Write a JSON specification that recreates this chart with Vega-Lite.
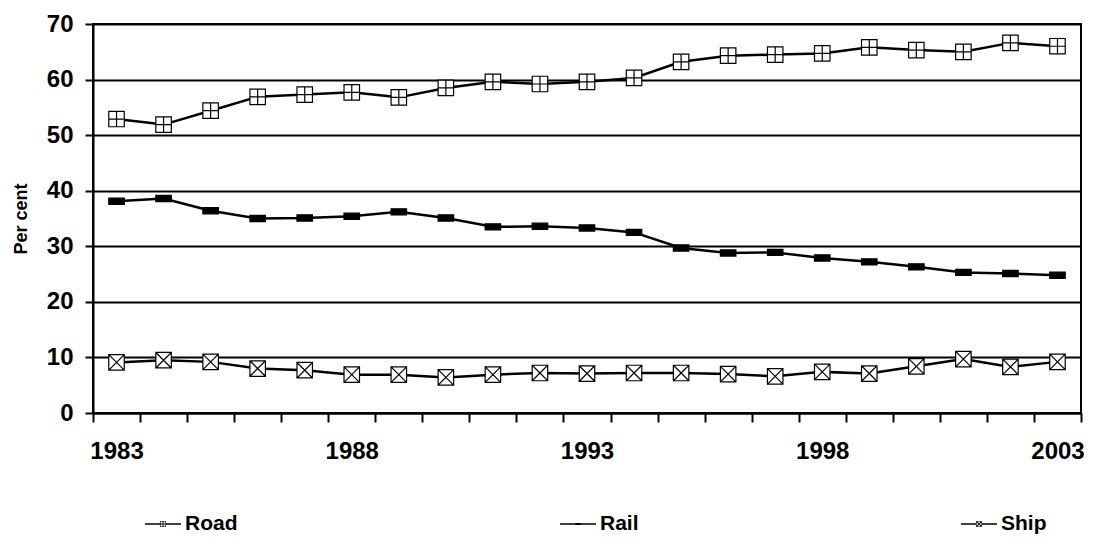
{
  "$schema": "https://vega.github.io/schema/vega-lite/v6.json",
  "width": 988,
  "height": 389,
  "autosize": {"type": "none"},
  "padding": {"left": 93, "top": 24, "right": 12, "bottom": 126},
  "background": "white",
  "config": {
    "view": {"stroke": "black", "strokeWidth": 2},
    "font": "Liberation Sans",
    "axis": {
      "labelFont": "Liberation Sans",
      "labelFontWeight": "bold",
      "labelFontSize": 24,
      "labelColor": "black",
      "titleFont": "Liberation Sans",
      "titleFontWeight": "bold",
      "titleColor": "black",
      "domainColor": "black",
      "domainWidth": 2,
      "tickColor": "black",
      "tickWidth": 2
    }
  },
  "data": {
    "values": [
      {"year": 1983, "series": "Road", "value": 52.9},
      {"year": 1984, "series": "Road", "value": 51.9},
      {"year": 1985, "series": "Road", "value": 54.4},
      {"year": 1986, "series": "Road", "value": 56.9},
      {"year": 1987, "series": "Road", "value": 57.3},
      {"year": 1988, "series": "Road", "value": 57.7},
      {"year": 1989, "series": "Road", "value": 56.8},
      {"year": 1990, "series": "Road", "value": 58.5},
      {"year": 1991, "series": "Road", "value": 59.6},
      {"year": 1992, "series": "Road", "value": 59.2},
      {"year": 1993, "series": "Road", "value": 59.6},
      {"year": 1994, "series": "Road", "value": 60.3},
      {"year": 1995, "series": "Road", "value": 63.2},
      {"year": 1996, "series": "Road", "value": 64.3},
      {"year": 1997, "series": "Road", "value": 64.5},
      {"year": 1998, "series": "Road", "value": 64.7},
      {"year": 1999, "series": "Road", "value": 65.8},
      {"year": 2000, "series": "Road", "value": 65.3},
      {"year": 2001, "series": "Road", "value": 65.0},
      {"year": 2002, "series": "Road", "value": 66.6},
      {"year": 2003, "series": "Road", "value": 66.0},
      {"year": 1983, "series": "Rail", "value": 38.1},
      {"year": 1984, "series": "Rail", "value": 38.6},
      {"year": 1985, "series": "Rail", "value": 36.4},
      {"year": 1986, "series": "Rail", "value": 35.0},
      {"year": 1987, "series": "Rail", "value": 35.1},
      {"year": 1988, "series": "Rail", "value": 35.4},
      {"year": 1989, "series": "Rail", "value": 36.2},
      {"year": 1990, "series": "Rail", "value": 35.1},
      {"year": 1991, "series": "Rail", "value": 33.5},
      {"year": 1992, "series": "Rail", "value": 33.6},
      {"year": 1993, "series": "Rail", "value": 33.3},
      {"year": 1994, "series": "Rail", "value": 32.5},
      {"year": 1995, "series": "Rail", "value": 29.7},
      {"year": 1996, "series": "Rail", "value": 28.8},
      {"year": 1997, "series": "Rail", "value": 28.9},
      {"year": 1998, "series": "Rail", "value": 27.9},
      {"year": 1999, "series": "Rail", "value": 27.2},
      {"year": 2000, "series": "Rail", "value": 26.3},
      {"year": 2001, "series": "Rail", "value": 25.3},
      {"year": 2002, "series": "Rail", "value": 25.1},
      {"year": 2003, "series": "Rail", "value": 24.8},
      {"year": 1983, "series": "Ship", "value": 9.1},
      {"year": 1984, "series": "Ship", "value": 9.5},
      {"year": 1985, "series": "Ship", "value": 9.2},
      {"year": 1986, "series": "Ship", "value": 8.0},
      {"year": 1987, "series": "Ship", "value": 7.7},
      {"year": 1988, "series": "Ship", "value": 6.9},
      {"year": 1989, "series": "Ship", "value": 6.9},
      {"year": 1990, "series": "Ship", "value": 6.4},
      {"year": 1991, "series": "Ship", "value": 6.9},
      {"year": 1992, "series": "Ship", "value": 7.2},
      {"year": 1993, "series": "Ship", "value": 7.1},
      {"year": 1994, "series": "Ship", "value": 7.2},
      {"year": 1995, "series": "Ship", "value": 7.2},
      {"year": 1996, "series": "Ship", "value": 7.0},
      {"year": 1997, "series": "Ship", "value": 6.6},
      {"year": 1998, "series": "Ship", "value": 7.4},
      {"year": 1999, "series": "Ship", "value": 7.1},
      {"year": 2000, "series": "Ship", "value": 8.4},
      {"year": 2001, "series": "Ship", "value": 9.7},
      {"year": 2002, "series": "Ship", "value": 8.3},
      {"year": 2003, "series": "Ship", "value": 9.2}
    ]
  },
  "encoding": {
    "x": {
      "field": "year",
      "type": "ordinal",
      "bandPosition": 0.5,
      "scale": {"type": "band", "paddingInner": 0, "paddingOuter": 0},
      "axis": {
        "title": null,
        "labelAngle": 0,
        "tickBand": "extent",
        "tickSize": 9,
        "labelPadding": 17,
        "grid": false,
        "labelExpr": "(datum.value - 1983) % 5 === 0 ? datum.label : ''"
      }
    },
    "y": {
      "field": "value",
      "type": "quantitative",
      "scale": {"domain": [0, 70], "nice": false},
      "axis": {
        "title": "Per cent",
        "titleFontSize": 18,
        "titlePadding": 16,
        "values": [0, 10, 20, 30, 40, 50, 60, 70],
        "tickSize": 8,
        "labelPadding": 12,
        "grid": true,
        "gridColor": "black",
        "gridWidth": 2,
        "gridOpacity": 1
      }
    }
  },
  "layer": [
    {
      "mark": {"type": "line", "color": "black", "strokeWidth": 2.5},
      "encoding": {"detail": {"field": "series"}}
    },
    {
      "mark": {"type": "point", "filled": true, "color": "black", "strokeWidth": 0, "opacity": 1},
      "encoding": {
        "shape": {
          "field": "series",
          "type": "nominal",
          "scale": {
            "domain": ["Road", "Rail", "Ship"],
            "range": [
              "M-1,-0.035H-0.17V0.035H-1ZM0.17,-0.035H1V0.035H0.17ZM-0.17,-0.17H0.17V0.17H-0.17ZM-0.135,-0.135V0.135H0.135V-0.135ZM-0.025,-0.135H0.025V0.135H-0.025ZM-0.135,-0.025H0.135V0.025H-0.135Z",
              "M-1,-0.035H1V0.035H-1ZM-0.15,-0.06H0.15V0.06H-0.15Z",
              "M-1,-0.035H-0.17V0.035H-1ZM0.17,-0.035H1V0.035H0.17ZM-0.17,-0.17H0.17V0.17H-0.17ZM-0.135,-0.135V0.135H0.135V-0.135ZM-0.135,-0.1L-0.1,-0.135L0.135,0.1L0.1,0.135ZM0.1,-0.135L0.135,-0.1L-0.1,0.135L-0.135,0.1Z"
            ]
          },
          "legend": {
            "orient": "none",
            "legendX": 52,
            "legendY": 482,
            "direction": "horizontal",
            "title": null,
            "labelFont": "Liberation Sans",
            "labelFontWeight": "bold",
            "labelFontSize": 21,
            "labelColor": "black",
            "labelOffset": 4,
            "symbolSize": 1296,
            "symbolStrokeWidth": 0,
            "symbolOpacity": 1,
            "columnPadding": 322
          }
        },
        "size": {"value": 240}
      }
    },
    {
      "mark": {"type": "point", "stroke": "black", "strokeWidth": 1.2, "opacity": 1},
      "encoding": {
        "shape": {
          "field": "series",
          "type": "nominal",
          "scale": {
            "domain": ["Road", "Rail", "Ship"],
            "range": [
              "M-1,-1H1V1H-1ZM0,-1V1M-1,0H1",
              "M-1,-0.4H1V0.4H-1Z",
              "M-1,-1H1V1H-1ZM-1,-1L1,1M1,-1L-1,1"
            ]
          },
          "legend": null
        },
        "fill": {
          "field": "series",
          "type": "nominal",
          "scale": {"domain": ["Road", "Rail", "Ship"], "range": ["white", "black", "white"]},
          "legend": null
        },
        "size": {"value": 240}
      }
    }
  ],
  "resolve": {"scale": {"shape": "independent"}, "legend": {"shape": "independent"}}
}
